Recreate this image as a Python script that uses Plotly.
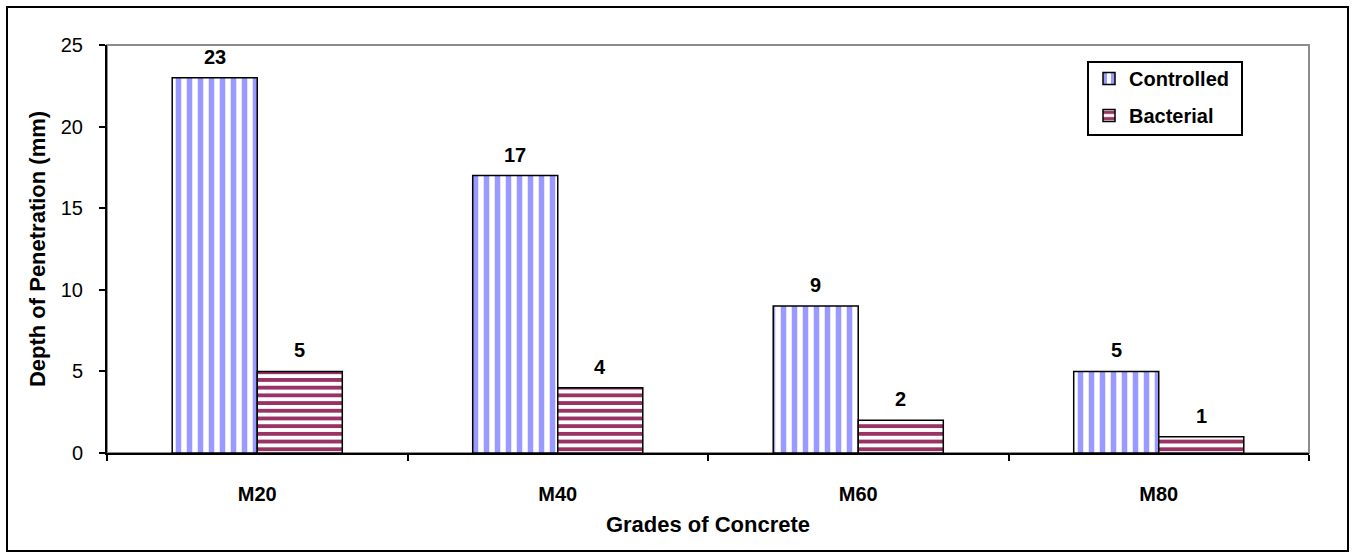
import plotly.graph_objects as go

# Penetration depth by concrete grade
grades = ["M20", "M40", "M60", "M80"]
controlled = [23, 17, 9, 5]
bacterial = [5, 4, 2, 1]

W, H = 1353, 559
L, R, T, B = 107, 1309, 45, 453  # plot area in pixels

FONT = "Liberation Sans, Arial, sans-serif"
BARGAP = 0.434

fig = go.Figure()
fig.add_trace(go.Bar(
    name="Controlled", x=grades, y=controlled, legendgroup="c",
    marker=dict(color="white",
                line=dict(color="black", width=1.5),
                pattern=dict(shape="|", fgcolor="#9999ff", bgcolor="white",
                             size=11, solidity=0.5, fgopacity=1)),
))
fig.add_trace(go.Bar(
    name="Bacterial", x=grades, y=bacterial, legendgroup="b",
    marker=dict(color="white",
                line=dict(color="black", width=1.5),
                pattern=dict(shape="-", fgcolor="#993366", bgcolor="white",
                             size=7.7, solidity=0.5, fgopacity=1)),
))

pw, ph = R - L, B - T


def px_x(v):
    return (v - L) / pw


def px_y(v):
    return (B - v) / ph


# value labels above each bar (half a bar width left/right of the category centre)
bar_w = pw / len(grades) * (1 - BARGAP) / 2
annotations = []
for vals, shift in ((controlled, -bar_w / 2), (bacterial, bar_w / 2)):
    for g, v in zip(grades, vals):
        annotations.append(dict(
            x=g, y=v, xref="x", yref="y", text=str(v), showarrow=False,
            xshift=shift, yshift=8, yanchor="bottom",
            font=dict(family=FONT, size=20, color="black", weight="bold"),
        ))

fig.update_layout(
    width=W, height=H,
    margin=dict(l=L, r=W - R, t=T, b=H - B, pad=0),
    paper_bgcolor="white", plot_bgcolor="white",
    barmode="group", bargap=BARGAP, bargroupgap=0,
    font=dict(family=FONT, color="black"),
    showlegend=True,
    legend=dict(x=px_x(1089), y=px_y(59), xanchor="left", yanchor="top",
                borderwidth=0, bgcolor="rgba(0,0,0,0)",
                font=dict(family=FONT, size=20, color="black", weight="bold"),
                traceorder="grouped", tracegroupgap=8),
    xaxis=dict(
        showline=True, linecolor="black", linewidth=2,
        ticks="outside", tickson="boundaries", ticklen=6, tickwidth=1.5,
        tickcolor="black", ticklabelstandoff=22,
        tickfont=dict(family=FONT, size=20, color="black", weight="bold"),
        title=dict(text="Grades of Concrete", standoff=13,
                   font=dict(family=FONT, size=22, color="black", weight="bold")),
        showgrid=False,
    ),
    yaxis=dict(
        range=[0, 25], dtick=5, tick0=0,
        showline=True, linecolor="black", linewidth=2,
        ticks="outside", ticklen=6, tickwidth=1.5, tickcolor="black",
        ticklabelstandoff=12,
        tickfont=dict(family=FONT, size=20, color="black"),
        title=dict(text="Depth of Penetration (mm)", standoff=9,
                   font=dict(family=FONT, size=22, color="black", weight="bold")),
        showgrid=False, zeroline=False,
    ),
    annotations=annotations,
    shapes=[
        # grey plot-area frame (top and right edges stay visible)
        dict(type="rect", xref="paper", yref="paper", x0=0, x1=1, y0=0, y1=1,
             line=dict(color="#8c8c8c", width=2), layer="below"),
        # legend frame
        dict(type="rect", xref="paper", yref="paper",
             x0=px_x(1088), x1=px_x(1242), y0=px_y(135), y1=px_y(62),
             line=dict(color="black", width=2), fillcolor="white", layer="below"),
        # outer chart border
        dict(type="rect", xref="paper", yref="paper",
             x0=px_x(7), x1=px_x(1348), y0=px_y(551), y1=px_y(7),
             line=dict(color="black", width=2), layer="above"),
    ],
)

fig.write_html("out.html")
